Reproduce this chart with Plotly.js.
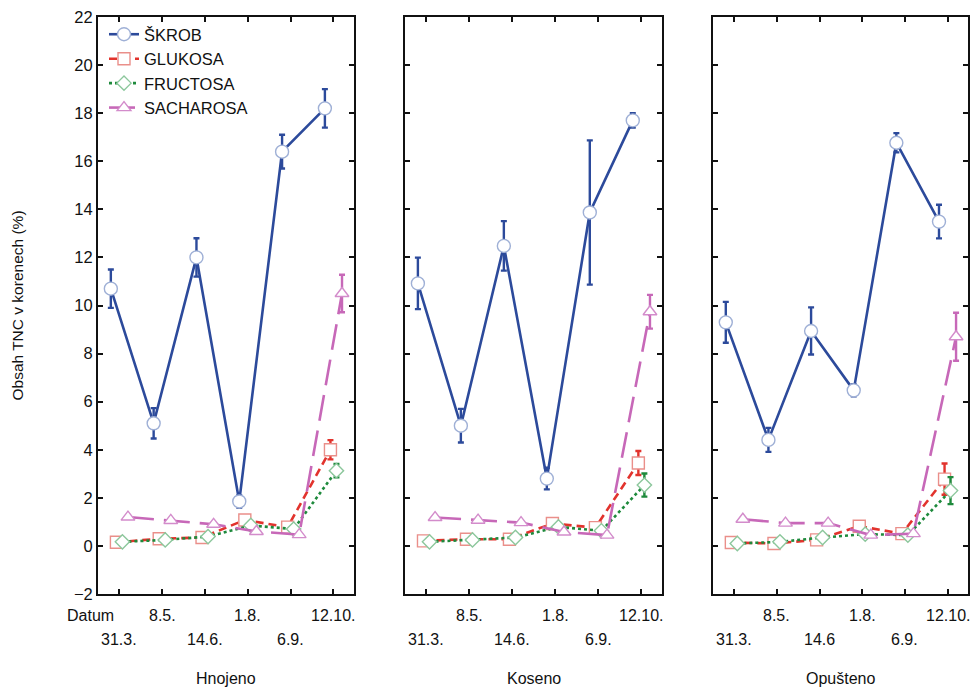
<!DOCTYPE html>
<html>
<head>
<meta charset="utf-8">
<script src="https://cdn.plot.ly/plotly-3.0.1.min.js"></script>
<style>html,body{margin:0;padding:0;background:#fff;}#chart{width:974px;height:687px;}</style>
</head>
<body>
<div id="chart"></div>
<script>
// ---- data ----
const dates = ['31.3.', '8.5.', '14.6.', '1.8.', '6.9.', '12.10.'];
const datesOpusteno = ['31.3.', '8.5.', '14.6', '1.8.', '6.9.', '12.10.'];
const panelNames = ['Hnojeno', 'Koseno', 'Opušteno'];
const seriesNames = ['ŠKROB', 'GLUKOSA', 'FRUCTOSA', 'SACHAROSA'];
const yTickVals = [-2, 0, 2, 4, 6, 8, 10, 12, 14, 16, 18, 20, 22];

// Hnojeno
const skrobHnojeno = [10.7, 5.1, 12.0, 1.85, 16.4, 18.2];
const skrobHnojenoErr = [0.8, 0.63, 0.8, 0.25, 0.7, 0.8];
const glukosaHnojeno = [0.15, 0.3, 0.35, 1.08, 0.78, 4.0];
const glukosaHnojenoErr = [0.05, 0.05, 0.05, 0.12, 0.1, 0.4];
const fructosaHnojeno = [0.17, 0.25, 0.39, 0.85, 0.7, 3.13];
const fructosaHnojenoErr = [0.03, 0.03, 0.03, 0.15, 0.05, 0.28];
const sacharosaHnojeno = [1.2, 1.06, 0.9, 0.6, 0.47, 10.5];
const sacharosaHnojenoErr = [0.05, 0.05, 0.05, 0.05, 0.05, 0.78];

// Koseno
const skrobKoseno = [10.92, 5.0, 12.48, 2.8, 13.87, 17.7];
const skrobKosenoErr = [1.07, 0.7, 1.03, 0.45, 3.0, 0.3];
const glukosaKoseno = [0.21, 0.28, 0.28, 0.93, 0.76, 3.45];
const glukosaKosenoErr = [0.05, 0.05, 0.05, 0.1, 0.08, 0.5];
const fructosaKoseno = [0.17, 0.25, 0.35, 0.79, 0.63, 2.53];
const fructosaKosenoErr = [0.03, 0.03, 0.03, 0.08, 0.05, 0.48];
const sacharosaKoseno = [1.18, 1.07, 0.97, 0.58, 0.45, 9.74];
const sacharosaKosenoErr = [0.05, 0.05, 0.05, 0.05, 0.05, 0.7];

// Opušteno
const skrobOpusteno = [9.3, 4.41, 8.94, 6.47, 16.77, 13.49];
const skrobOpustenoErr = [0.85, 0.5, 0.98, 0.25, 0.4, 0.7];
const glukosaOpusteno = [0.14, 0.1, 0.25, 0.82, 0.51, 2.78];
const glukosaOpustenoErr = [0.05, 0.05, 0.05, 0.08, 0.08, 0.65];
const fructosaOpusteno = [0.1, 0.17, 0.35, 0.49, 0.45, 2.3];
const fructosaOpustenoErr = [0.03, 0.03, 0.03, 0.05, 0.05, 0.56];
const sacharosaOpusteno = [1.11, 0.95, 0.95, 0.45, 0.51, 8.7];
const sacharosaOpustenoErr = [0.05, 0.05, 0.05, 0.05, 0.05, 1.0];

// ---- styles ----
const panelData = [
  [[skrobHnojeno, skrobHnojenoErr], [glukosaHnojeno, glukosaHnojenoErr], [fructosaHnojeno, fructosaHnojenoErr], [sacharosaHnojeno, sacharosaHnojenoErr]],
  [[skrobKoseno, skrobKosenoErr], [glukosaKoseno, glukosaKosenoErr], [fructosaKoseno, fructosaKosenoErr], [sacharosaKoseno, sacharosaKosenoErr]],
  [[skrobOpusteno, skrobOpustenoErr], [glukosaOpusteno, glukosaOpustenoErr], [fructosaOpusteno, fructosaOpustenoErr], [sacharosaOpusteno, sacharosaOpustenoErr]]
];
const panelLabels = [dates, dates, datesOpusteno];
const styles = [
  {color: '#2c4a9b', dash: 'solid', symbol: 'circle', mline: '#9fb0d6', size: 13, off: -0.2},
  {color: '#e2332d', dash: '8px,5px', symbol: 'square', mline: '#ea8f8a', size: 12, off: -0.07},
  {color: '#1e8a3c', dash: 'dot', symbol: 'diamond', mline: '#8cc79c', size: 11, off: 0.07},
  {color: '#c768b8', dash: '26px,10px', symbol: 'triangle-up', mline: '#d38ccb', size: 12, off: 0.2}
];
const domains = [[98/974, 354/974], [405/974, 662/974], [713/974, 968/974]];
const FONT = 'Liberation Sans, Arial, sans-serif';

const traces = [];
panelData.forEach((series, p) => {
  const suffix = p === 0 ? '' : String(p + 1);
  series.forEach((pair, s) => {
    const st = styles[s];
    traces.push({
      type: 'scatter', mode: 'lines+markers',
      name: seriesNames[s], showlegend: p === 0, legendgroup: seriesNames[s],
      x: pair[0].map((v, i) => i + st.off),
      y: pair[0],
      xaxis: 'x' + suffix, yaxis: 'y' + suffix,
      line: {color: st.color, width: 2.6, dash: st.dash},
      marker: {symbol: st.symbol, size: st.size, color: '#ffffff', line: {color: st.mline, width: 1.4}},
      error_y: {type: 'data', array: pair[1], visible: true, color: st.color, thickness: 2.4, width: 3},
      cliponaxis: false
    });
  });
});

const layout = {
  width: 974, height: 687,
  margin: {l: 0, r: 0, t: 17, b: 93},
  paper_bgcolor: '#ffffff', plot_bgcolor: '#ffffff',
  font: {family: FONT, size: 16, color: '#111'},
  showlegend: true,
  legend: {x: 104/974, y: 1, xanchor: 'left', yanchor: 'top', bgcolor: 'rgba(0,0,0,0)',
           font: {family: FONT, size: 16.5, color: '#111'}, tracegroupgap: 0},
  annotations: []
};
for (let p = 0; p < 3; p++) {
  const suffix = p === 0 ? '' : String(p + 1);
  layout['xaxis' + suffix] = {
    domain: domains[p], range: [-0.5, 5.48], anchor: 'y' + suffix,
    tickvals: [0, 1, 2, 3, 4, 5], showticklabels: false,
    ticks: 'inside', ticklen: 5, tickwidth: 2, tickcolor: '#111',
    showline: true, linecolor: '#111', linewidth: 2, mirror: 'ticks',
    showgrid: false, zeroline: false, fixedrange: true
  };
  layout['yaxis' + suffix] = {
    domain: [0, 1], range: [-2, 22], anchor: 'x' + suffix,
    tickvals: yTickVals, showticklabels: p === 0,
    ticks: 'inside', ticklen: 5, tickwidth: 2, tickcolor: '#111',
    showline: true, linecolor: '#111', linewidth: 2, mirror: 'ticks',
    showgrid: false, zeroline: false, fixedrange: true,
    tickfont: {family: FONT, size: 16.5, color: '#111'},
    title: p === 0 ? {text: 'Obsah TNC v korenech (%)', font: {family: FONT, size: 15.5, color: '#111'}, standoff: 46} : undefined
  };
  // date labels (staggered)
  panelLabels[p].forEach((lab, i) => {
    layout.annotations.push({
      text: lab, xref: 'x' + suffix, yref: 'paper', x: i, y: 0,
      xanchor: 'center', yanchor: 'middle', showarrow: false,
      yshift: i % 2 === 1 ? -21 : -45,
      font: {family: FONT, size: 16, color: '#111'}
    });
  });
  layout.annotations.push({
    text: panelNames[p], xref: 'paper', yref: 'paper',
    x: (domains[p][0] + domains[p][1]) / 2, y: 0,
    xanchor: 'center', yanchor: 'middle', showarrow: false, yshift: -84,
    font: {family: FONT, size: 16, color: '#111'}
  });
}
layout.annotations.push({
  text: 'Datum', xref: 'paper', yref: 'paper', x: 90/974, y: 0,
  xanchor: 'center', yanchor: 'middle', showarrow: false, yshift: -21,
  font: {family: FONT, size: 16, color: '#111'}
});

Plotly.newPlot('chart', traces, layout, {displayModeBar: false, staticPlot: true});
</script>
</body>
</html>
